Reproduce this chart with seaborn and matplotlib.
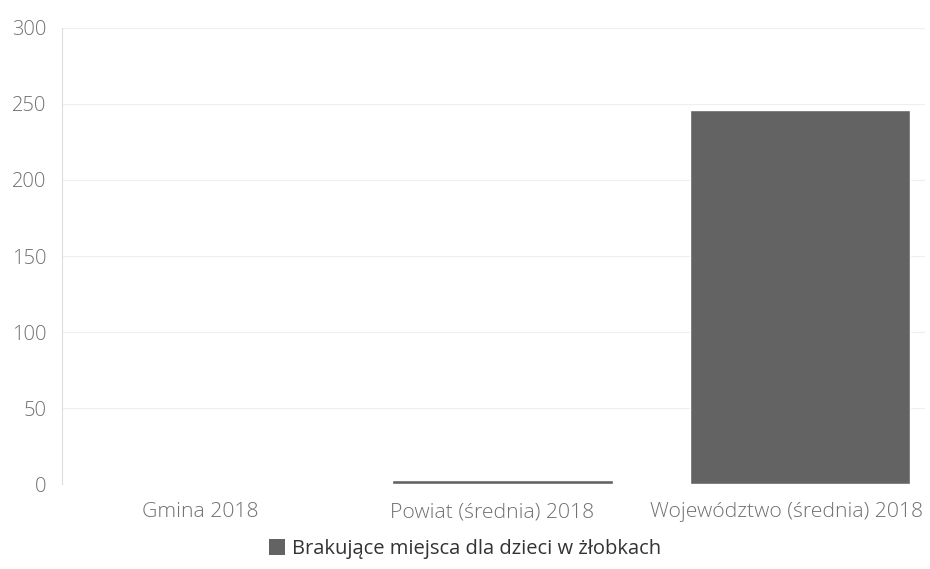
import matplotlib
matplotlib.use("Agg")
import matplotlib.pyplot as plt
import matplotlib.transforms as mtransforms
import seaborn as sns
import pandas as pd
from matplotlib.patches import Patch

categories = ["Gmina 2018", "Powiat (średnia) 2018", "Województwo (średnia) 2018"]
values = [0, 3, 246]
series_name = "Brakujące miejsca dla dzieci w żłobkach"
yticks = [0, 50, 100, 150, 200, 250, 300]

sns.set_theme(style="white")
plt.rcParams['font.family'] = ['Open Sans', 'DejaVu Sans']

df = pd.DataFrame({"cat": categories, "val": values})
fig = plt.figure(figsize=(9.3, 5.69), dpi=100)
ax = fig.add_axes([0.0667, 0.149, 0.928, 0.802])
sns.barplot(data=df, x="cat", y="val", color="#636363", width=0.74, ax=ax, saturation=1)
ax.set_ylim(0, 300)
ax.set_xlim(-0.48, 2.42)
ax.set_yticks(yticks)
ax.set_yticklabels([str(t) for t in yticks])
ax.yaxis.grid(True, color="#eeeeee", linewidth=0.8)
ax.set_axisbelow(True)
for s in ["top", "right", "bottom"]:
    ax.spines[s].set_visible(False)
ax.spines["left"].set_color("#dddddd")
ax.spines["left"].set_linewidth(0.8)
ax.set_xlabel("")
ax.set_ylabel("")
ax.tick_params(axis="both", length=0, labelcolor="#707070")
ax.tick_params(axis="y", pad=11, labelsize=14.5)
ax.tick_params(axis="x", pad=13, labelsize=15.2)
for lbl in ax.get_yticklabels() + ax.get_xticklabels():
    lbl.set_fontweight("light")
for lbl, dx in zip(ax.get_xticklabels(), [-5, -10, -14]):
    lbl.set_transform(lbl.get_transform() + mtransforms.ScaledTranslation(dx / 100, 0, fig.dpi_scale_trans))
handles = [Patch(facecolor="#636363", edgecolor="none", label=series_name)]
fig.legend(handles=handles, loc="center", bbox_to_anchor=(0.5, 0.035), frameon=False,
           fontsize=14.5, handlelength=0.8, handleheight=0.8, handletextpad=0.3,
           labelcolor="#333333")
fig.savefig("out.png", dpi=100)
